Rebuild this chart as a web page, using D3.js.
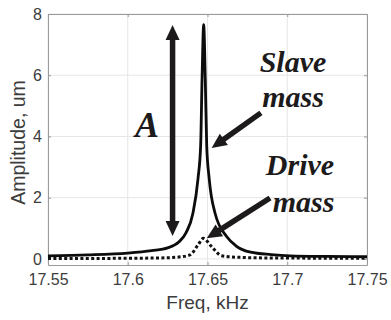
<!DOCTYPE html>
<html>
<head>
<meta charset="utf-8">
<script src="https://cdn.jsdelivr.net/npm/d3@7"></script>
<style>
  html, body { margin: 0; padding: 0; background: #fff; }
  svg { display: block; }
</style>
</head>
<body>
<svg id="chart" width="391" height="320"></svg>
<script>
// Frequency response of the two masses (frequency in kHz, amplitude in um)
const slaveFreq = [17.55, 17.575, 17.60, 17.615, 17.625, 17.632, 17.6365, 17.6409, 17.644, 17.6457, 17.6466,
                   17.6476, 17.6486, 17.6495, 17.6511, 17.6547, 17.662, 17.668, 17.677, 17.69, 17.702, 17.725, 17.75];
const slaveAmp  = [0.10, 0.13, 0.19, 0.27, 0.36, 0.55, 0.85, 1.5, 2.6, 3.7, 5.9,
                   7.65, 5.9, 3.7, 2.6, 1.5, 0.73, 0.42, 0.22, 0.14, 0.10, 0.08, 0.07];

const driveFreq = [17.55, 17.60, 17.62, 17.632, 17.6391, 17.644, 17.6474, 17.6526, 17.6589, 17.67, 17.69, 17.75];
const driveAmp  = [0.01, 0.02, 0.03, 0.06, 0.13, 0.45, 0.67, 0.40, 0.10, 0.05, 0.03, 0.02];

const xTicks = [17.55, 17.6, 17.65, 17.7, 17.75];
const yTicks = [0, 2, 4, 6, 8];

const margin = { left: 48, top: 14, right: 24, bottom: 55 };
const W = 391, H = 320;
const iw = W - margin.left - margin.right;
const ih = H - margin.top - margin.bottom;

const svg = d3.select("#chart");
const g = svg.append("g").attr("transform", `translate(${margin.left},${margin.top})`);

const x = d3.scaleLinear().domain([17.55, 17.75]).range([0, iw]);
const y = d3.scaleLinear().domain([-0.2, 8]).range([ih, 0]);

const axisColor = "#9a9a9a";
const textColor = "#3c3c3c";

// grid
g.append("g").selectAll("line").data(xTicks).join("line")
  .attr("x1", d => x(d)).attr("x2", d => x(d)).attr("y1", 0).attr("y2", ih)
  .attr("stroke", "#e6e6e6").attr("stroke-width", 1);
g.append("g").selectAll("line").data(yTicks).join("line")
  .attr("x1", 0).attr("x2", iw).attr("y1", d => y(d)).attr("y2", d => y(d))
  .attr("stroke", "#e6e6e6").attr("stroke-width", 1);

// axes (ticks point inward, box on all sides)
const fmt = d => String(+d.toFixed(2));
const styleAxis = sel => {
  sel.select(".domain").attr("stroke", axisColor);
  sel.selectAll(".tick line").attr("stroke", axisColor);
  sel.selectAll(".tick text").attr("fill", textColor)
    .attr("font-family", "Liberation Sans, Arial, sans-serif").attr("font-size", 16);
};
g.append("g").attr("transform", `translate(0,${ih})`)
  .call(d3.axisBottom(x).tickValues(xTicks).tickFormat(fmt).tickSizeInner(-3).tickSizeOuter(0).tickPadding(9))
  .call(styleAxis);
g.append("g")
  .call(d3.axisLeft(y).tickValues(yTicks).tickFormat(fmt).tickSizeInner(-3).tickSizeOuter(0).tickPadding(6))
  .call(styleAxis);
g.append("g")
  .call(d3.axisTop(x).tickValues(xTicks).tickFormat("").tickSizeInner(-3).tickSizeOuter(0))
  .call(styleAxis);
g.append("g").attr("transform", `translate(${iw},0)`)
  .call(d3.axisRight(y).tickValues(yTicks).tickFormat("").tickSizeInner(-3).tickSizeOuter(0))
  .call(styleAxis);

// axis titles
svg.append("text")
  .attr("x", margin.left + iw / 2).attr("y", 309)
  .attr("text-anchor", "middle").attr("fill", textColor)
  .attr("font-family", "Liberation Sans, Arial, sans-serif").attr("font-size", 19)
  .text("Freq, kHz");
svg.append("text")
  .attr("transform", `translate(25,${margin.top + ih / 2 + 3}) rotate(-90)`)
  .attr("text-anchor", "middle").attr("fill", textColor)
  .attr("font-family", "Liberation Sans, Arial, sans-serif").attr("font-size", 19.5)
  .text("Amplitude, um");

// response curves
const plotArea = g.append("g");
const line = d3.line().x(d => x(d[0])).y(d => y(d[1])).curve(d3.curveMonotoneX);
const drive = driveFreq.map((f, i) => [f, driveAmp[i]]);
const slave = slaveFreq.map((f, i) => [f, slaveAmp[i]]);

plotArea.append("path").datum(drive).attr("d", line)
  .attr("fill", "none").attr("stroke", "#111").attr("stroke-width", 3)
  .attr("stroke-dasharray", "3,2.4");
plotArea.append("path").datum(slave).attr("d", line)
  .attr("fill", "none").attr("stroke", "#0c0c0c").attr("stroke-width", 2.8)
  .attr("stroke-linejoin", "round");

// annotations (positions in data units)
const arrowInk = "#1c1a1a";
function arrowHead(tip, from) {
  const [tx, ty] = [x(tip[0]), y(tip[1])];
  const [fx, fy] = [x(from[0]), y(from[1])];
  const ang = Math.atan2(ty - fy, tx - fx);
  const len = 15, half = 7;
  const bx = tx - len * Math.cos(ang), by = ty - len * Math.sin(ang);
  const px = -Math.sin(ang) * half, py = Math.cos(ang) * half;
  return [[tx, ty], [bx + px, by + py], [bx - px, by - py]];
}
function drawArrow(from, to, both) {
  const ang = Math.atan2(y(to[1]) - y(from[1]), x(to[0]) - x(from[0]));
  const shorten = 12;
  let x1 = x(from[0]), y1 = y(from[1]);
  let x2 = x(to[0]) - shorten * Math.cos(ang), y2 = y(to[1]) - shorten * Math.sin(ang);
  if (both) { x1 += shorten * Math.cos(ang); y1 += shorten * Math.sin(ang); }
  g.append("line").attr("x1", x1).attr("y1", y1).attr("x2", x2).attr("y2", y2)
    .attr("stroke", arrowInk).attr("stroke-width", 5.5);
  g.append("polygon").attr("points", arrowHead(to, from).join(" ")).attr("fill", arrowInk);
  if (both) g.append("polygon").attr("points", arrowHead(from, to).join(" ")).attr("fill", arrowInk);
}

const ampArrow = [[17.6281, 7.64], [17.6281, 0.75]];
const slaveArrow = [[17.6835, 4.77], [17.6526, 3.62]];
const driveArrow = [[17.6892, 1.99], [17.6495, 0.67]];
drawArrow(ampArrow[0], ampArrow[1], true);
drawArrow(slaveArrow[0], slaveArrow[1], false);
drawArrow(driveArrow[0], driveArrow[1], false);

const labels = [
  { text: "A",     f: 17.6121, a: 3.98, size: 36 },
  { text: "Slave", f: 17.7036, a: 6.10, size: 30 },
  { text: "mass",  f: 17.7036, a: 4.96, size: 30 },
  { text: "Drive", f: 17.7080, a: 2.74, size: 30 },
  { text: "mass",  f: 17.7102, a: 1.53, size: 30 }
];
g.append("g").selectAll("text").data(labels).join("text")
  .attr("x", d => x(d.f)).attr("y", d => y(d.a))
  .attr("text-anchor", "middle")
  .attr("font-family", "Liberation Serif, 'Times New Roman', serif")
  .attr("font-weight", "bold").attr("font-style", "italic")
  .attr("font-size", d => d.size).attr("fill", "#1c1a1a")
  .text(d => d.text);
</script>
</body>
</html>
